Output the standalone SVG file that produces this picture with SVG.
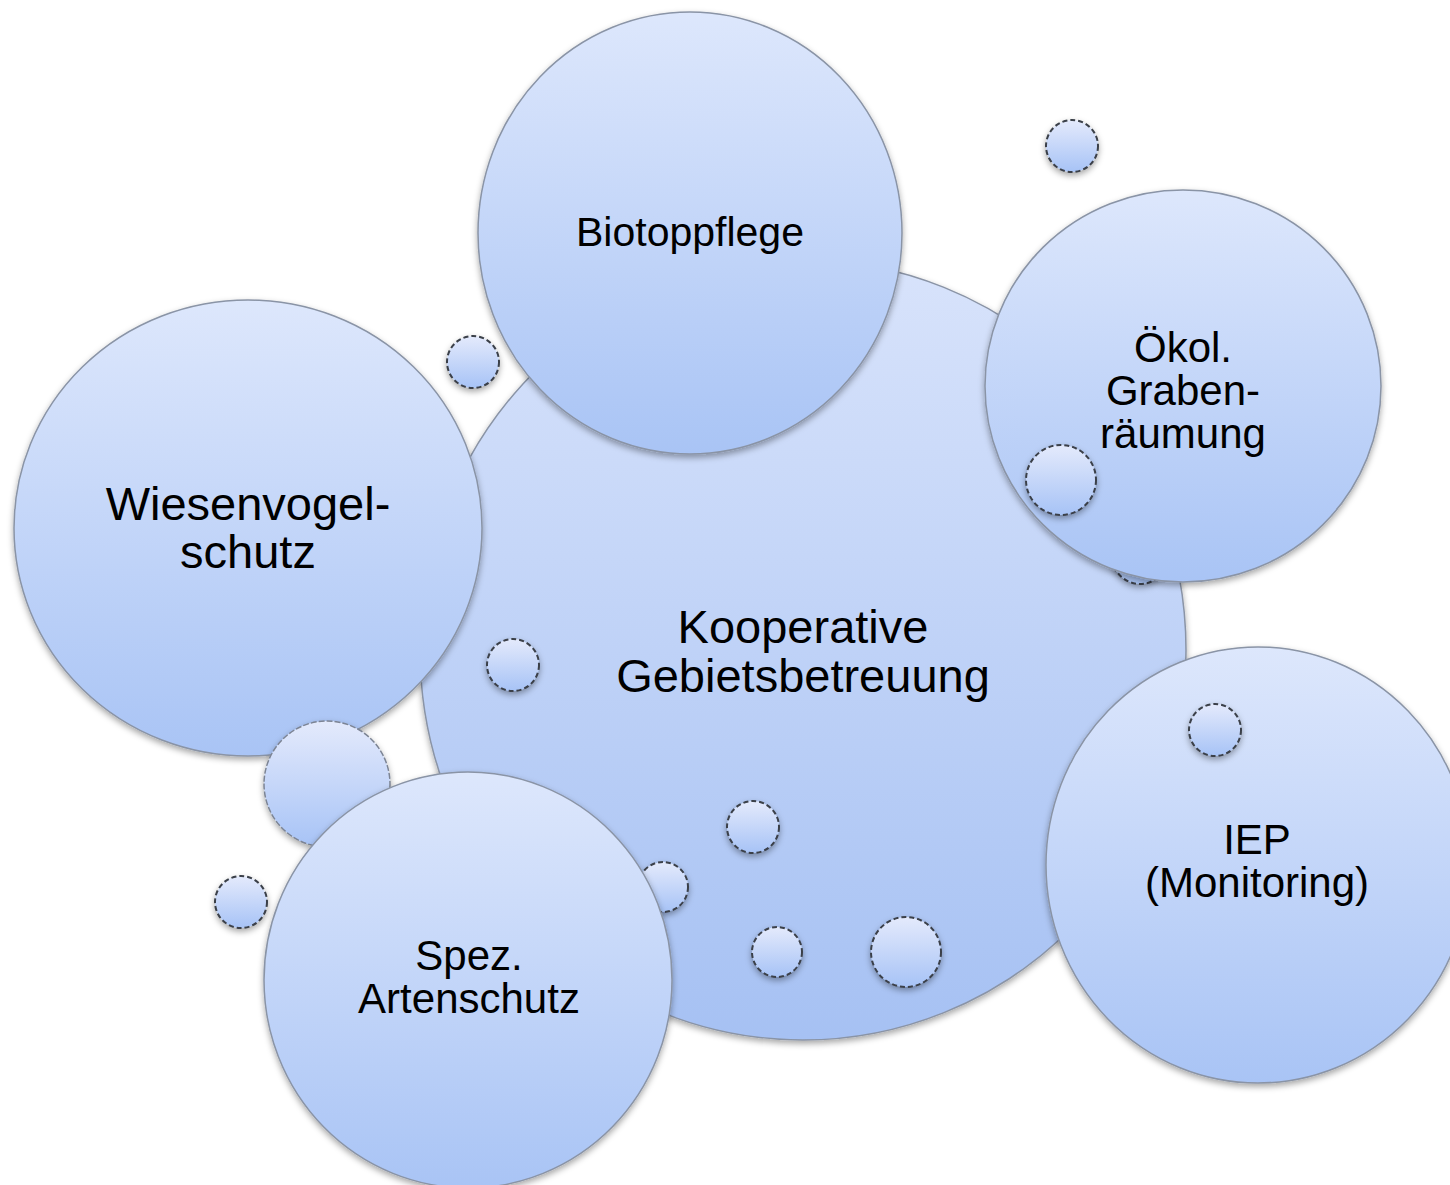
<svg xmlns="http://www.w3.org/2000/svg" width="1450" height="1185" viewBox="0 0 1450 1185">
<style>
.big{stroke:#8a94a6;stroke-width:1.5;filter:url(#sh)}
.med{stroke:#7c8494;stroke-width:1.5;stroke-dasharray:6 2;filter:url(#sh)}
.sm{stroke:#3a3f48;stroke-width:2;stroke-dasharray:5 3;filter:url(#sh)}
.t{font-family:"Liberation Sans",Arial,sans-serif;fill:#000;text-anchor:middle}
</style>
<defs>
<linearGradient id="gb" x1="0" y1="0" x2="0" y2="1">
<stop offset="0" stop-color="#dde7fc"/>
<stop offset="1" stop-color="#a9c4f5"/>
</linearGradient>
<linearGradient id="gc" x1="0" y1="0" x2="0" y2="1">
<stop offset="0" stop-color="#d8e3fb"/>
<stop offset="1" stop-color="#a6c1f3"/>
</linearGradient>
<linearGradient id="gs" x1="0" y1="0" x2="0" y2="1">
<stop offset="0" stop-color="#e4eafc"/>
<stop offset="1" stop-color="#a7c3f6"/>
</linearGradient>
<filter id="sh" x="-20%" y="-20%" width="140%" height="140%">
<feDropShadow dx="0" dy="3" stdDeviation="3" flood-color="#000" flood-opacity="0.35"/>
</filter>
</defs>
<g id="connectors"></g>
<g id="node-center">
<ellipse class="big" cx="803" cy="650" rx="383" ry="390" fill="url(#gc)"/>
<text class="t" font-size="47" x="803" y="643">Kooperative</text>
<text class="t" font-size="47" x="803" y="692">Gebietsbetreuung</text>
</g>
<g id="bubble-hidden"><circle class="sm" cx="1140" cy="556" r="28" fill="url(#gs)"/></g>
<g id="node-biotop">
<ellipse class="big" cx="690" cy="233" rx="212" ry="221" fill="url(#gb)"/>
<text class="t" font-size="41" x="690" y="246">Biotoppflege</text>
</g>
<g id="node-wiesen">
<ellipse class="big" cx="248" cy="528" rx="234" ry="228" fill="url(#gb)"/>
<text class="t" font-size="47" x="248" y="520">Wiesenvogel-</text>
<text class="t" font-size="47" x="248" y="568">schutz</text>
</g>
<g id="bubble-medium"><circle class="med" cx="327" cy="784" r="63" fill="url(#gs)"/></g>
<g id="node-graben">
<ellipse class="big" cx="1183" cy="386" rx="198" ry="196" fill="url(#gb)"/>
<text class="t" font-size="42" x="1183" y="362">Ökol.</text>
<text class="t" font-size="42" x="1183" y="405">Graben-</text>
<text class="t" font-size="42" x="1183" y="448">räumung</text>
</g>
<g id="node-iep">
<ellipse class="big" cx="1258" cy="865" rx="212" ry="218" fill="url(#gb)"/>
<text class="t" font-size="42" x="1257" y="854">IEP</text>
<text class="t" font-size="42" x="1257" y="897">(Monitoring)</text>
</g>
<g id="bubble-b7"><circle class="sm" cx="663" cy="887" r="25" fill="url(#gs)"/></g>
<g id="node-spez">
<ellipse class="big" cx="468" cy="980" rx="204" ry="208" fill="url(#gb)"/>
<text class="t" font-size="42" x="469" y="970">Spez.</text>
<text class="t" font-size="42" x="469" y="1013">Artenschutz</text>
</g>
<g id="bubbles">
<circle class="sm" cx="1072" cy="146" r="26" fill="url(#gs)"/>
<circle class="sm" cx="473" cy="362" r="26" fill="url(#gs)"/>
<circle class="sm" cx="1061" cy="480" r="35" fill="url(#gs)"/>
<circle class="sm" cx="513" cy="665" r="26" fill="url(#gs)"/>
<circle class="sm" cx="753" cy="827" r="26" fill="url(#gs)"/>
<circle class="sm" cx="777" cy="952" r="25" fill="url(#gs)"/>
<circle class="sm" cx="906" cy="952" r="35" fill="url(#gs)"/>
<circle class="sm" cx="1215" cy="730" r="26" fill="url(#gs)"/>
<circle class="sm" cx="241" cy="902" r="26" fill="url(#gs)"/>
</g>
</svg>
